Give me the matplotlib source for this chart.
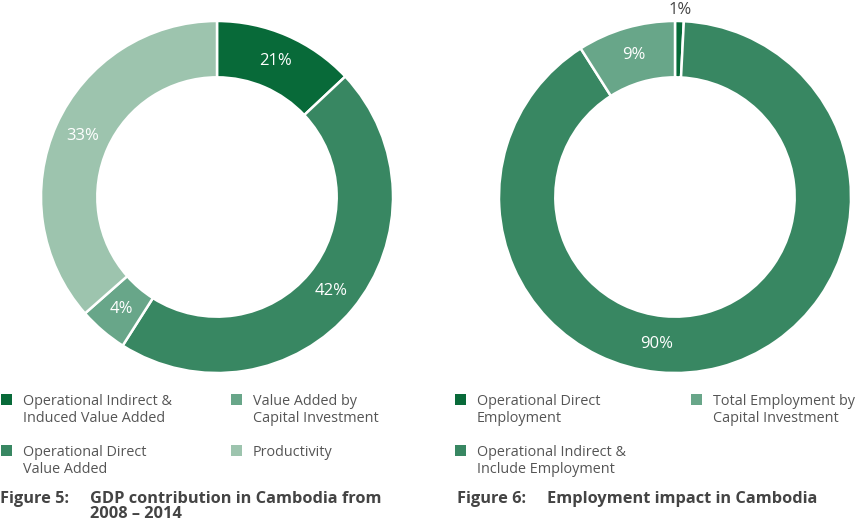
import numpy as np
import matplotlib.pyplot as plt
from matplotlib.patches import Rectangle

W, H = 858, 522
plt.rcParams['font.family'] = ['Open Sans', 'DejaVu Sans']

# Figure 5 - GDP contribution (wedge sizes as drawn, labels as printed)
gdp_names = ["Operational Indirect &\nInduced Value Added", "Operational Direct\nValue Added",
             "Value Added by\nCapital Investment", "Productivity"]
gdp_share = [13, 46, 4.5, 36.5]
gdp_labels = ["21%", "42%", "4%", "33%"]
gdp_colors = ["#086a39", "#388762", "#68a689", "#9dc4ae"]
gdp_legend_order = [0, 2, 1, 3]

# Figure 6 - Employment impact
emp_names = ["Operational Direct\nEmployment", "Operational Indirect &\nInclude Employment",
             "Total Employment by\nCapital Investment"]
emp_share = [0.8, 90.2, 9]
emp_labels = ["1%", "90%", "9%"]
emp_colors = ["#086a39", "#388762", "#68a689"]
emp_legend_order = [0, 2, 1]

TXT = "#555555"
CAP = "#444444"

fig = plt.figure(figsize=(W / 100, H / 100), dpi=100)
ov = fig.add_axes([0, 0, 1, 1])
ov.set_xlim(0, W)
ov.set_ylim(H, 0)
ov.axis("off")


def donut(cx, cy, r, shares, colors, labels, lab_colors, lab_r, lab_angle=None):
    ax = fig.add_axes([(cx - r) / W, (H - cy - r) / H, 2 * r / W, 2 * r / H])
    ax.pie(shares, colors=colors, startangle=90, counterclock=False,
           wedgeprops=dict(width=0.32, edgecolor="white", linewidth=1.8))
    ax.set_xlim(-1, 1)
    ax.set_ylim(-1, 1)
    ax.set_aspect("equal")
    cum = np.cumsum(shares)
    mids = 360 * (cum - np.array(shares) / 2) / cum[-1]
    for i, lab in enumerate(labels):
        a = mids[i] if lab_angle is None or lab_angle[i] is None else lab_angle[i]
        rr = lab_r[i]
        ax.text(rr * np.sin(np.radians(a)), rr * np.cos(np.radians(a)), lab,
                ha="center", va="center", fontsize=12, color=lab_colors[i],
                clip_on=False)


donut(217, 197, 176, gdp_share, gdp_colors, gdp_labels,
      ["white"] * 4, [0.84] * 4)
donut(675, 197, 176, emp_share, emp_colors, emp_labels,
      [CAP, "white", "white"], [1.065, 0.84, 0.84], [None, 187, None])


def legend(names, colors, order, x0s, y0s):
    for k, i in enumerate(order):
        x, y = x0s[k % 2], y0s[k // 2]
        ov.add_patch(Rectangle((x, y), 11, 11, color=colors[i], lw=0))
        for j, line in enumerate(names[i].split("\n")):
            ov.text(x + 22, y + 11 + 17 * j, line, ha="left", va="baseline",
                    fontsize=10.4, color=TXT)


legend(gdp_names, gdp_colors, gdp_legend_order, [1, 231], [394, 445])
legend(emp_names, emp_colors, emp_legend_order, [455, 691], [394, 445])

cap_kw = dict(fontsize=11.8, fontweight="bold", color=CAP, va="baseline")
ov.text(0, 503, "Figure 5:", **cap_kw)
ov.text(90, 503, "GDP contribution in Cambodia from", **cap_kw)
ov.text(90, 518, "2008 – 2014", **cap_kw)
ov.text(457, 503, "Figure 6:", **cap_kw)
ov.text(547, 503, "Employment impact in Cambodia", **cap_kw)

fig.savefig("out.png", dpi=100)
